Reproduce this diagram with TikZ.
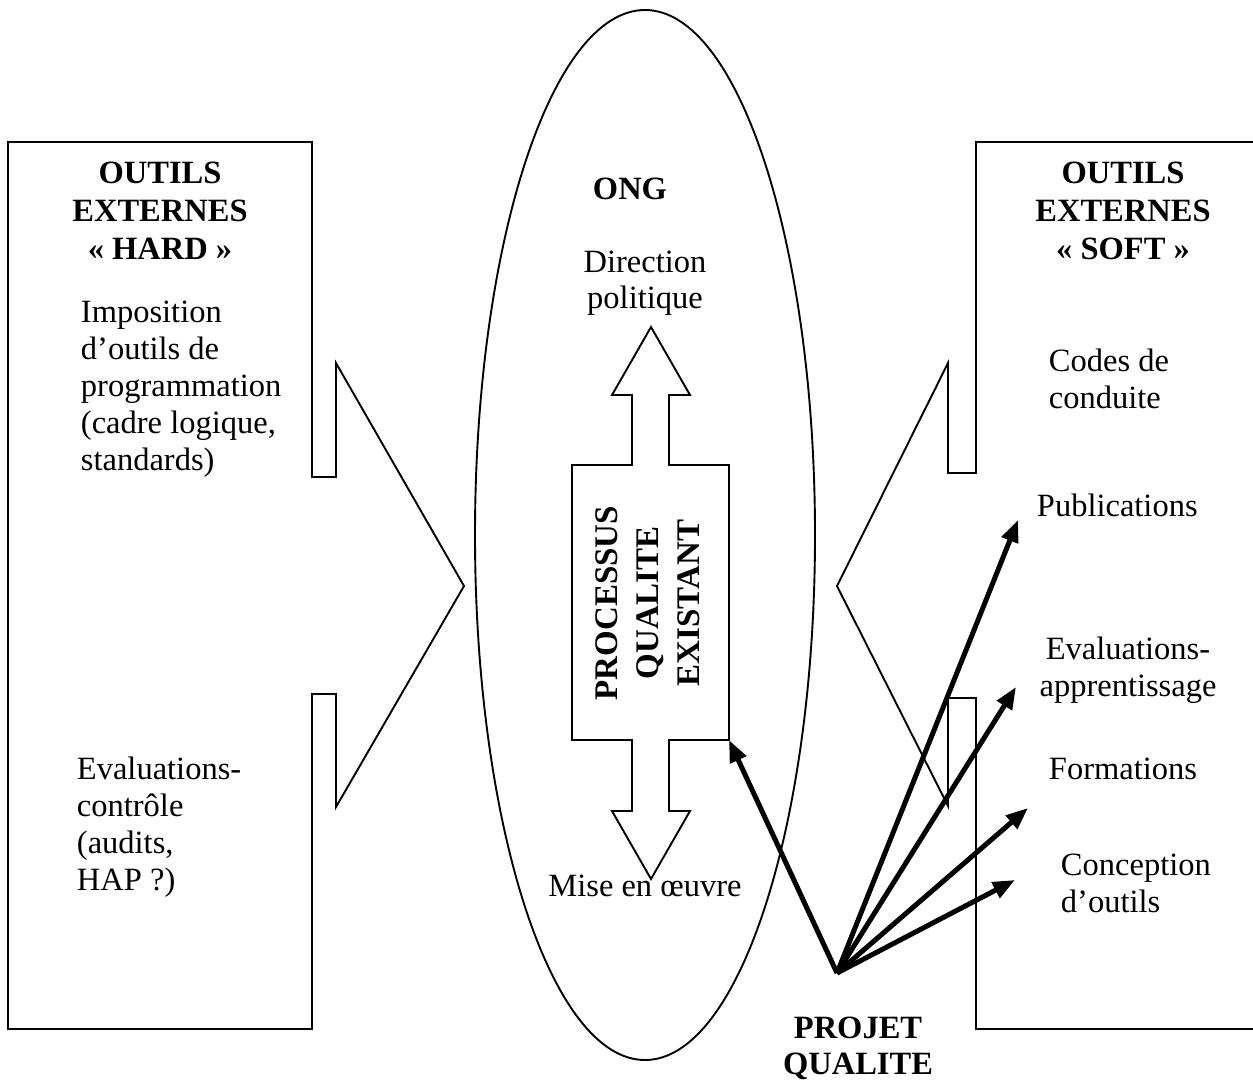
\documentclass[tikz,border=0pt]{standalone}
\usepackage{fontspec}
\setmainfont{Liberation Serif}
\usetikzlibrary{arrows.meta,shapes.geometric}
\begin{document}
\begin{tikzpicture}[x=1pt,y=-1pt,line width=1.9pt,line join=miter,
  txt/.style={font=\fontsize{32.5}{37}\selectfont,inner sep=0pt,anchor=base west},
  ctxt/.style={font=\fontsize{32.5}{37}\selectfont,inner sep=0pt,anchor=base},
  ttl/.style={font=\fontsize{32.5}{37}\selectfont\bfseries,inner sep=0pt,anchor=base},
  bigarrow/.style={line width=5pt,-{Triangle[length=22pt,width=17pt]}}]
\useasboundingbox (0,0) rectangle (1253,1080);

% left shape
\draw (312,142) -- (8,142) -- (8,1029) -- (312,1029) -- (312,694) -- (336,694)
  -- (336,807) -- (464,586) -- (336,363) -- (336,477) -- (312,477) -- cycle;
% right shape (open to the right edge)
\draw (1262,142) -- (976,142) -- (976,473) -- (948,473) -- (948,363) -- (837,586)
  -- (948,806) -- (948,698) -- (976,698) -- (976,1029) -- (1262,1029);
% ellipse ONG
\node[draw,ellipse,minimum width=340pt,minimum height=1050pt,inner sep=0pt] (ongE) at (645,535) {};
% central double arrow
\draw (572,465) -- (632,465) -- (632,395) -- (612,395) -- (651,327) -- (690,395)
  -- (669,395) -- (669,465) -- (729,465) -- (729,740) -- (669,740) -- (669,811)
  -- (690,811) -- (651,879) -- (612,811) -- (632,811) -- (632,740) -- (572,740) -- cycle;
\coordinate (rc) at (729,740);
\node[font=\fontsize{33}{41}\selectfont\bfseries,inner sep=0pt,align=center,rotate=90] (proc) at (648,603)
  {PROCESSUS\\QUALITE\\EXISTANT};

% left texts
\node[ttl] (lt1) at (160,183) {OUTILS};
\node[ttl] (lt2) at (160,221) {EXTERNES};
\node[ttl] (lt3) at (160,259) {« HARD »};
\node[txt] (la1) at (80,322) {Imposition};
\node[txt] (la2) at (80,359) {d’outils de};
\node[txt] (la3) at (80,396) {programmation};
\node[txt] (la4) at (80,433) {(cadre logique,};
\node[txt] (la5) at (80,470) {standards)};
\node[txt] (lb1) at (76,779) {Evaluations-};
\node[txt] (lb2) at (76,816) {contrôle};
\node[txt] (lb3) at (76,853) {(audits,};
\node[txt] (lb4) at (76,890) {HAP ?)};

% centre texts
\node[ttl] (ong) at (630,199) {ONG};
\node[ctxt] (dir1) at (645,272) {Direction};
\node[ctxt] (dir2) at (645,308) {politique};
\node[ctxt] (mise) at (645,896) {Mise en œuvre};

% right texts
\node[ttl] (rt1) at (1123,183) {OUTILS};
\node[ttl] (rt2) at (1123,221) {EXTERNES};
\node[ttl] (rt3) at (1123,259) {« SOFT »};
\node[txt] (cod1) at (1048,371) {Codes de};
\node[txt] (cod2) at (1048,408) {conduite};
\node[txt] (pub) at (1036,516) {Publications};
\node[ctxt] (ev1) at (1128,659) {Evaluations-};
\node[ctxt] (ev2) at (1128,696) {apprentissage};
\node[txt] (form) at (1048,779) {Formations};
\node[txt] (con1) at (1060,875) {Conception};
\node[txt] (con2) at (1060,912) {d’outils};

% projet qualite
\node[ttl] (pq1) at (858,1038) {PROJET};
\node[ttl] (pq2) at (858,1074) {QUALITE};

% arrows
\coordinate (O) at (837,973);
\coordinate (tPub) at (1018,520);
\coordinate (tEv) at (1016,687);
\coordinate (tForm) at (1028,808);
\coordinate (tCon) at (1015,880);
\draw[bigarrow] (O) -- (rc);
\draw[bigarrow] (O) -- (tPub);
\draw[bigarrow] (O) -- (tEv);
\draw[bigarrow] (O) -- (tForm);
\draw[bigarrow] (O) -- (tCon);
\end{tikzpicture}
\end{document}
